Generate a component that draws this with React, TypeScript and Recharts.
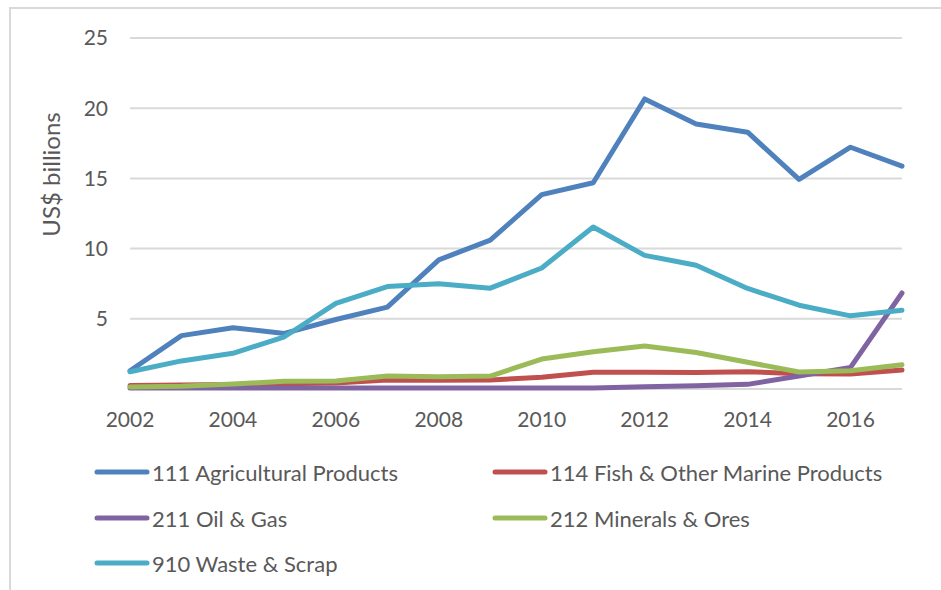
import { LineChart, Line, XAxis, YAxis, CartesianGrid } from 'recharts'

const years = ['2002', '2003', '2004', '2005', '2006', '2007', '2008', '2009', '2010', '2011', '2012', '2013', '2014', '2015', '2016', '2017']

const agricultural = [1.3, 3.8, 4.36, 3.96, 4.95, 5.83, 9.2, 10.6, 13.84, 14.69, 20.66, 18.88, 18.29, 14.93, 17.22, 15.87]
const fish = [0.25, 0.28, 0.32, 0.37, 0.43, 0.64, 0.62, 0.64, 0.83, 1.2, 1.2, 1.18, 1.23, 1.09, 1.07, 1.35]
const oilGas = [0.08, 0.08, 0.08, 0.08, 0.08, 0.08, 0.08, 0.08, 0.08, 0.08, 0.16, 0.23, 0.33, 0.92, 1.54, 6.84]
const minerals = [0.15, 0.2, 0.35, 0.55, 0.57, 0.92, 0.87, 0.92, 2.13, 2.65, 3.06, 2.6, 1.9, 1.21, 1.3, 1.73]
const waste = [1.23, 2.0, 2.54, 3.72, 6.1, 7.3, 7.5, 7.18, 8.62, 11.54, 9.52, 8.81, 7.16, 5.97, 5.21, 5.61]

const yTicks = [0, 5, 10, 15, 20, 25]

const SERIES = [
  { key: 'agri', name: '111 Agricultural Products', color: '#4F81BD', values: agricultural },
  { key: 'fish', name: '114 Fish & Other Marine Products', color: '#C0504D', values: fish },
  { key: 'oil', name: '211 Oil & Gas', color: '#8064A2', values: oilGas },
  { key: 'min', name: '212 Minerals & Ores', color: '#9BBB59', values: minerals },
  { key: 'waste', name: '910 Waste & Scrap', color: '#4BACC6', values: waste },
]

const FONT = 'Lato, "Open Sans", sans-serif'
const TEXT = '#595959'

const data = years.map((year, i) => {
  const row: Record<string, string | number> = { year }
  SERIES.forEach((s) => {
    row[s.key] = s.values[i]
  })
  return row
})

// legend is two columns, filled row by row
const LEGEND_COLS = [93, 491]
const LEGEND_ROWS = [472, 518, 563]

const YLabel = (props: any) => {
  const vb = props.viewBox || { x: 70, y: 38, width: 60, height: 351 }
  const x = vb.x - 20
  const y = vb.y + vb.height / 2 - 39
  return (
    <text x={x} y={y} transform={`rotate(-90, ${x}, ${y})`} textAnchor="middle" dominantBaseline="central" fill={TEXT} fontSize={24} fontFamily={FONT}>
      US$ billions
    </text>
  )
}

const App = () => {
  return (
    <div style={{ position: 'absolute', left: 0, top: 0, width: 941, height: 590, background: '#fff', overflow: 'hidden', fontFamily: FONT }}>
      <div style={{ position: 'absolute', left: 9, top: 7, width: 960, height: 620, borderLeft: '2px solid #D9D9D9', borderTop: '2px solid #D9D9D9' }} />
      <div style={{ position: 'absolute', left: 0, top: 0 }}>
        <LineChart width={941} height={590} data={data} margin={{ top: 38, right: 39, left: 70, bottom: 171 }}>
          <CartesianGrid vertical={false} stroke="#D9D9D9" strokeWidth={2} />
          <XAxis
            dataKey="year"
            interval={1}
            height={30}
            axisLine={false}
            tickLine={false}
            tickSize={6}
            tickMargin={17}
            tick={{ fontSize: 21, fill: TEXT, fontFamily: FONT }}
          />
          <YAxis
            domain={[0, 25]}
            ticks={yTicks}
            width={60}
            axisLine={false}
            tickLine={false}
            tickSize={6}
            tickMargin={16}
            tickFormatter={(v: number) => (v === 0 ? '' : String(v))}
            tick={{ fontSize: 21, fill: TEXT, fontFamily: FONT }}
            label={YLabel}
          />
          {SERIES.map((s) => (
            <Line
              key={s.key}
              type="linear"
              dataKey={s.key}
              name={s.name}
              stroke={s.color}
              strokeWidth={5}
              strokeLinecap="round"
              strokeLinejoin="round"
              dot={false}
              activeDot={false}
              isAnimationActive={false}
            />
          ))}
        </LineChart>
      </div>
      {SERIES.map((s, i) => (
        <div
          key={s.key}
          style={{
            position: 'absolute',
            left: LEGEND_COLS[i % 2],
            top: LEGEND_ROWS[Math.floor(i / 2)] - 15,
            height: 30,
            display: 'flex',
            alignItems: 'center',
            whiteSpace: 'nowrap',
          }}
        >
          <svg width={58} height={10} style={{ display: 'block' }}>
            <line x1={4} y1={5} x2={54} y2={5} stroke={s.color} strokeWidth={5} strokeLinecap="round" />
          </svg>
          <span style={{ fontSize: 22, color: TEXT, marginLeft: 1 }}>{s.name}</span>
        </div>
      ))}
    </div>
  )
}

export default App
